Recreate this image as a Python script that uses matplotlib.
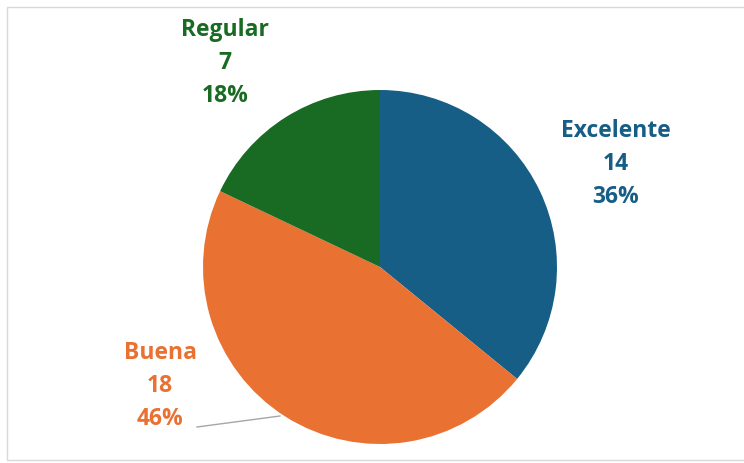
import matplotlib
matplotlib.use("Agg")
import matplotlib.pyplot as plt
from matplotlib.patches import Rectangle

# Survey ratings
categories = ["Excelente", "Buena", "Regular"]
counts = [14, 18, 7]
colors = ["#175E86", "#E97132", "#196B24"]

W, H = 744, 464
fig = plt.figure(figsize=(W / 100, H / 100), dpi=100)
ax = fig.add_axes([0, 0, 1, 1])

center = (380, H - 268)
radius = 177
ax.pie(counts, colors=colors, startangle=90, counterclock=False,
       center=center, radius=radius, frame=True,
       wedgeprops=dict(linewidth=0))
ax.set_xlim(0, W)
ax.set_ylim(0, H)
ax.set_aspect("equal")
ax.axis("off")

# chart frame
ax.add_patch(Rectangle((7, 3), W - 5, H - 11, fill=False,
                       edgecolor="#D9D9D9", linewidth=1.0))

total = sum(counts)
label_pos = {
    "Excelente": (616, 131),
    "Buena": (160, 353),
    "Regular": (225, 30),
}
line_gap = 33
for cat, n, c in zip(categories, counts, colors):
    x, y = label_pos[cat]
    pct = round(100 * n / total)
    for i, s in enumerate([cat, str(n), f"{pct}%"]):
        ax.text(x, H - (y + i * line_gap), s, color=c, fontsize=16.5,
                fontweight="bold", family="Open Sans",
                ha="center", va="center")

# leader line for the Buena label
ax.plot([197, 280], [H - 428, H - 417], color="#A6A6A6", linewidth=1.0)

fig.savefig("out.png", dpi=100)
